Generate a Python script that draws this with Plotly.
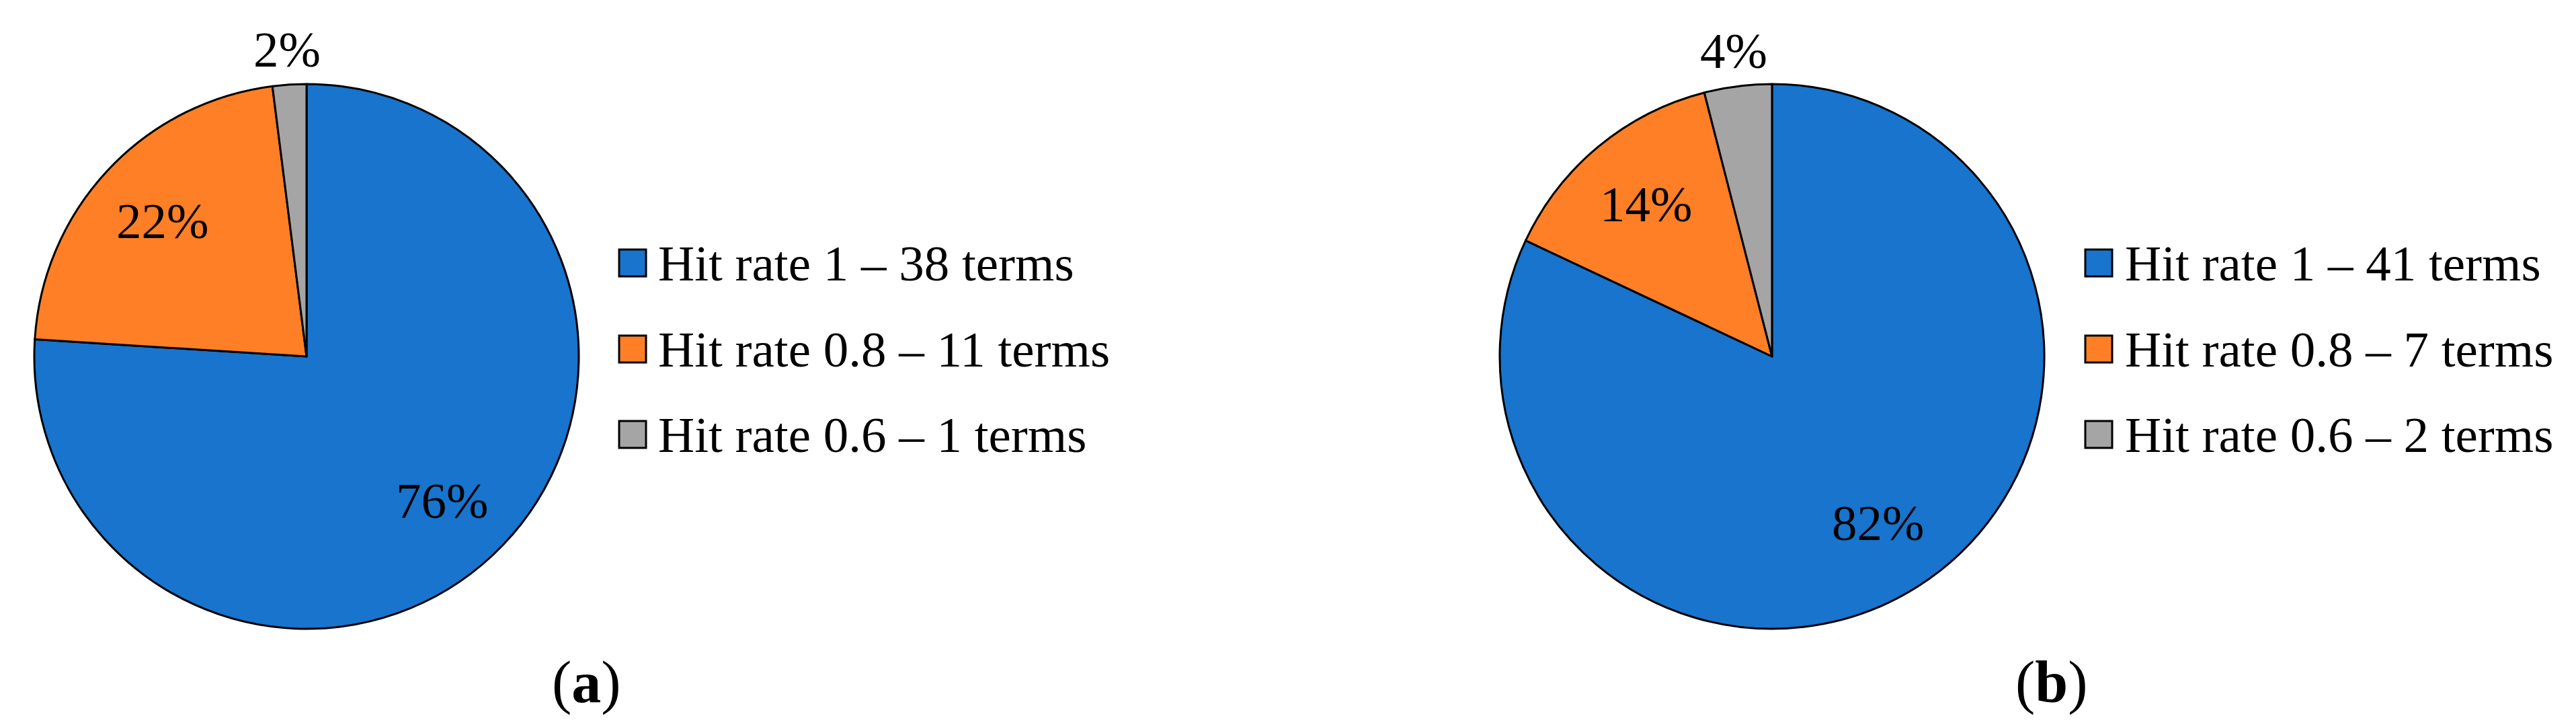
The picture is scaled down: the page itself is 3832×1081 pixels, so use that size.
import math
import plotly.graph_objects as go

W, H = 3832, 1081

# ---- data ----
categories_a = ["Hit rate 1 – 38 terms", "Hit rate 0.8 – 11 terms", "Hit rate 0.6 – 1 terms"]
values_a = [38, 11, 1]
categories_b = ["Hit rate 1 – 41 terms", "Hit rate 0.8 – 7 terms", "Hit rate 0.6 – 2 terms"]
values_b = [41, 7, 2]
panel_labels = ["a", "b"]

colors = ["#1874CD", "#FF7F27", "#A5A5A5"]
FONT = "Liberation Serif, Times New Roman, serif"

# ---- layout geometry (pixels) ----
panels = [
    dict(cats=categories_a, vals=values_a, cx=448, cy=522, r=405,
         sq_x=913, txt_x=969, lab_x=864, tag=panel_labels[0]),
    dict(cats=categories_b, vals=values_b, cx=2628, cy=522, r=405,
         sq_x=3094, txt_x=3151, lab_x=3044, tag=panel_labels[1]),
]
legend_rows = [383, 511, 638]
sq = 40

def px(x):
    return x / W

def py(y):
    return 1 - y / H

fig = go.Figure()
annotations = []
shapes = []

for p in panels:
    cx, cy, r = p["cx"], p["cy"], p["r"]
    fig.add_trace(go.Pie(
        labels=p["cats"], values=p["vals"],
        marker=dict(colors=colors, line=dict(color="black", width=3)),
        sort=False, direction="clockwise", rotation=0,
        textinfo="none", hoverinfo="label+percent", showlegend=False,
        domain=dict(x=[px(cx - r), px(cx + r)], y=[py(cy + r), py(cy - r)]),
    ))
    total = sum(p["vals"])
    cum = 0.0
    for v in p["vals"]:
        frac = v / total
        mid = (cum + frac / 2) * 2 * math.pi
        cum += frac
        rf = 0.725 if frac >= 0.05 else 1.13
        x = cx + rf * r * math.sin(mid)
        y = cy - rf * r * math.cos(mid)
        annotations.append(dict(
            x=px(x), y=py(y), xref="paper", yref="paper",
            text=f"{round(100 * frac)}%", showarrow=False,
            xanchor="center", yanchor="middle",
            font=dict(family=FONT, size=75, color="black"),
        ))
    # legend
    for i, (cat, yc) in enumerate(zip(p["cats"], legend_rows)):
        shapes.append(dict(
            type="rect", xref="paper", yref="paper",
            x0=px(p["sq_x"]), x1=px(p["sq_x"] + sq),
            y0=py(yc + sq / 2), y1=py(yc - sq / 2),
            fillcolor=colors[i], line=dict(color="black", width=3),
        ))
        annotations.append(dict(
            x=px(p["txt_x"]), y=py(yc), xref="paper", yref="paper",
            text=cat, showarrow=False, xanchor="left", yanchor="middle",
            font=dict(family=FONT, size=75, color="black"),
        ))
    annotations.append(dict(
        x=px(p["lab_x"]), y=py(1006), xref="paper", yref="paper",
        text=f"(<b>{p['tag']}</b>)", showarrow=False,
        xanchor="center", yanchor="middle",
        font=dict(family=FONT, size=88, color="black"),
    ))

fig.update_layout(
    width=W, height=H,
    margin=dict(l=0, r=0, t=0, b=0),
    paper_bgcolor="white", plot_bgcolor="white",
    annotations=annotations, shapes=shapes,
    showlegend=False,
)

fig.write_html("out.html")
